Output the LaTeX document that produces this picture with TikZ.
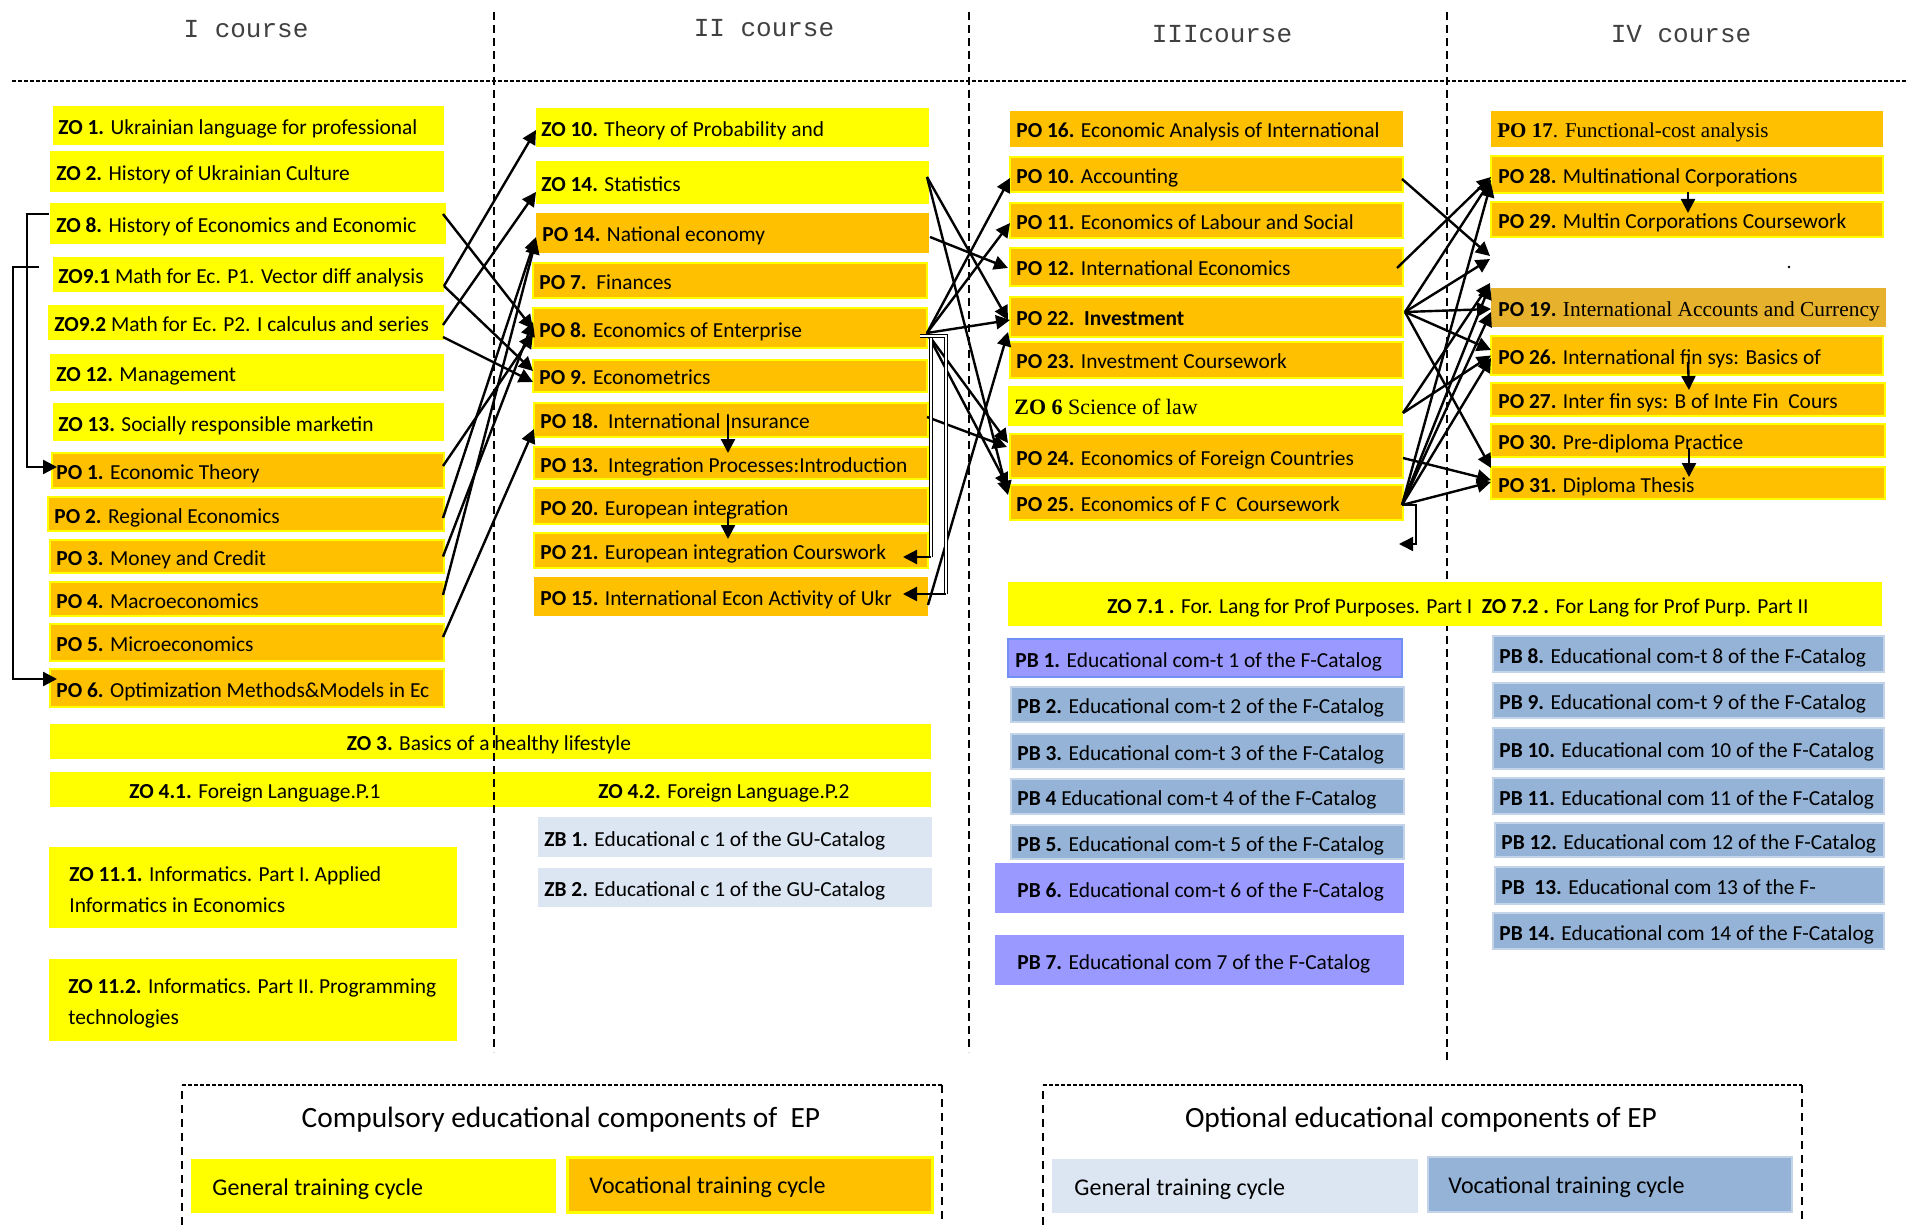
\documentclass[tikz,border=0pt]{standalone}
\usepackage{fontspec}
\setmainfont{Carlito}
\newfontfamily\tms{Liberation Serif}
\newfontfamily\mono{Liberation Mono}
\usetikzlibrary{arrows.meta,calc}
\definecolor{yel}{HTML}{FFFF00}
\definecolor{org}{HTML}{FFC000}
\definecolor{gld}{HTML}{E6B12C}
\definecolor{pbl}{HTML}{95B3D7}
\definecolor{pbb}{HTML}{C3D3E8}
\definecolor{vio}{HTML}{9999FF}
\definecolor{vioB}{HTML}{7090F5}
\definecolor{zbl}{HTML}{DCE6F2}
\tikzset{
 base/.style={inner sep=0, outer sep=0},
 ybox/.style={base, fill=yel},
 obox/.style={base, fill=org, draw=yel, line width=0.9pt},
 onob/.style={base, fill=org},
 gbox/.style={base, fill=gld},
 bbox/.style={base, fill=pbl, draw=pbb, line width=0.8pt},
 vbox/.style={base, fill=vio},
 vonebox/.style={base, fill=vio, draw=vioB, line width=1pt},
 zbox/.style={base, fill=zbl},
 txt/.style={inner sep=0, font=\fontsize{10.7}{13}\selectfont},
 arr/.style={line width=1.2pt, -{Triangle[length=7pt,width=7pt]}},
 thinarr/.style={line width=0.8pt, -{Triangle[length=7pt,width=7pt]}},
 brk/.style={draw=black, line width=0.45pt, double=white, double distance=0.9pt},
 vdash/.style={line width=0.7pt, dash pattern=on 4pt off 2.5pt},
 hdash/.style={line width=1pt, dash pattern=on 2pt off 1pt},
 ldash/.style={line width=0.6pt, dash pattern=on 4pt off 3pt},
 ltop/.style={line width=0.9pt, dash pattern=on 2pt off 1pt},
 course/.style={inner sep=0, font=\mono\fontsize{13}{15}\selectfont, text=black!75},
 legt/.style={inner sep=0, font=\fontsize{14.7}{17}\selectfont},
 legi/.style={inner sep=0, font=\fontsize{12}{14}\selectfont, anchor=base west},
}
\newcommand\cbe[6]{%
 \node[#6, anchor=north west, minimum width={(#4-#2)*0.5pt}, minimum height={(#5-#3)*0.5pt}] (#1) at (#2,#3) {};}
\newcommand\cbx[8]{%
 \cbe{#1}{#2}{#3}{#4}{#5}{#6}%
 \node[txt, anchor=base west] (#1t) at ({#7},{(#3+#5)/2+9}) {#8};}
\begin{document}
\begin{tikzpicture}[x=0.5pt,y=-0.5pt]
\fill[white] (0,0) rectangle (1907,1225);
\path[use as bounding box] (0,0) rectangle (1907,1225);
% course titles
\node[course] (c1) at (246,29) {I course};
\node[course] (c2) at (764,28) {II course};
\node[course] (c3) at (1222,34) {IIIcourse};
\node[course] (c4) at (1681,34) {IV course};
\draw[hdash] (12,81) -- (1907,81);
\draw[vdash] (1447,12) -- (1447,1063);
% column 1
\cbx{zo1}{53}{106}{444}{145}{ybox}{58}{\textbf{ZO 1.} Ukrainian language for professional}
\cbx{zo2}{50}{151}{444}{192}{ybox}{56}{\textbf{ZO 2.} History of Ukrainian Culture}
\cbx{zo8}{50}{203}{446}{244}{ybox}{56}{\textbf{ZO 8.} History of Economics and Economic}
\cbx{zo91}{53}{257}{444}{292}{ybox}{58}{\textbf{ZO9.1} Math for Ec. P1. Vector diff analysis}
\cbx{zo92}{48}{305}{444}{340}{ybox}{54}{\textbf{ZO9.2} Math for Ec. P2. I calculus and series}
\cbx{zo12}{50}{354}{444}{391}{ybox}{56}{\textbf{ZO 12.} Management}
\cbx{zo13}{53}{403}{444}{441}{ybox}{58}{\textbf{ZO 13.} Socially responsible marketin}
\cbx{po1}{52}{453}{444}{488}{obox}{56}{\textbf{PO 1.} Economic Theory}
\cbx{po2}{48}{497}{444}{531}{obox}{54}{\textbf{PO 2.} Regional Economics}
\cbx{po3}{50}{540}{444}{573}{obox}{56}{\textbf{PO 3.} Money and Credit}
\cbx{po4}{50}{582}{444}{616}{obox}{56}{\textbf{PO 4.} Macroeconomics}
\cbx{po5}{50}{624}{444}{661}{obox}{56}{\textbf{PO 5.} Microeconomics}
\cbx{po6}{50}{669}{444}{707}{obox}{56}{\textbf{PO 6.} Optimization Methods\&Models in Ec}
\cbe{zo3}{50}{724}{931}{759}{ybox}
\node[txt, anchor=base] (zo3t) at (489,750) {\textbf{ZO 3.} Basics of a healthy lifestyle};
\cbe{zo4}{50}{772}{931}{807}{ybox}
\node[txt, anchor=base] (zo41t) at (255,798) {\textbf{ZO 4.1.} Foreign Language.P.1};
\node[txt, anchor=base] (zo42t) at (724,798) {\textbf{ZO 4.2.} Foreign Language.P.2};
\cbe{zo111}{49}{847}{457}{928}{ybox}
\node[txt, anchor=west, align=left, font=\fontsize{10.7}{15.5}\selectfont] (zo111t) at (69,890) {\textbf{ZO 11.1.} Informatics. Part I. Applied\\Informatics in Economics};
\cbe{zo112}{49}{959}{457}{1041}{ybox}
\node[txt, anchor=west, align=left, font=\fontsize{10.7}{15.5}\selectfont] (zo112t) at (68,1003) {\textbf{ZO 11.2.} Informatics. Part II. Programming\\technologies};
% column 2
\cbx{zo10}{536}{108}{929}{147}{ybox}{541}{\textbf{ZO 10.} Theory of Probability and}
\cbx{zo14}{536}{161}{929}{204}{ybox}{541}{\textbf{ZO 14.} Statistics}
\cbx{po14}{536}{213}{929}{253}{onob}{542}{\textbf{PO 14.} National economy}
\cbx{po7}{533}{263}{927}{298}{obox}{539}{\textbf{PO 7.}\ \ Finances}
\cbx{po8}{533}{308}{927}{348}{obox}{539}{\textbf{PO 8.} Economics of Enterprise}
\cbx{po9}{533}{360}{927}{392}{obox}{539}{\textbf{PO 9.} Econometrics}
\cbx{po18}{534}{403}{928}{437}{obox}{540}{\textbf{PO 18.}\ \ International Insurance}
\cbx{po13}{534}{447}{928}{479}{obox}{540}{\textbf{PO 13.}\ \ Integration Processes:Introduction}
\cbx{po20}{534}{488}{928}{524}{obox}{540}{\textbf{PO 20.} European integration}
\cbx{po21}{534}{533}{928}{568}{obox}{540}{\textbf{PO 21.} European integration Courswork}
\cbx{po15}{534}{577}{928}{616}{onob}{540}{\textbf{PO 15.} International Econ Activity of Ukr}
\cbx{zb1}{538}{817}{932}{857}{zbox}{544}{\textbf{ZB 1.} Educational c 1 of the GU-Catalog}
\cbx{zb2}{538}{868}{932}{907}{zbox}{544}{\textbf{ZB 2.} Educational c 1 of the GU-Catalog}
% column 3
\cbx{po16}{1010}{111}{1403}{147}{onob}{1016}{\textbf{PO 16.} Economic Analysis of International}
\cbx{po10}{1010}{157}{1403}{192}{obox}{1016}{\textbf{PO 10.} Accounting}
\cbx{po11}{1010}{203}{1403}{238}{obox}{1016}{\textbf{PO 11.} Economics of Labour and Social}
\cbx{po12}{1010}{248}{1403}{286}{obox}{1016}{\textbf{PO 12.} International Economics}
\cbx{po22}{1010}{297}{1403}{337}{obox}{1016}{\textbf{PO 22.\ \ Investment}}
\cbx{po23}{1010}{342}{1403}{378}{obox}{1016}{\textbf{PO 23.} Investment Coursework}
\cbx{zo6}{1008}{386}{1403}{426}{ybox}{1014}{{\tms\fontsize{11}{13}\selectfont\textbf{ZO 6} Science of law}}
\cbx{po24}{1010}{434}{1403}{478}{obox}{1016}{\textbf{PO 24.} Economics of Foreign Countries}
\cbx{po25}{1010}{485}{1403}{520}{obox}{1016}{\textbf{PO 25.} Economics of F C\ \ Coursework}
\cbe{zo7}{1008}{582}{1882}{626}{ybox}
\node[txt, anchor=base] (zo7t) at (1458,613) {\textbf{ZO 7.1 .} For. Lang for Prof Purposes. Part I\ \ \textbf{ZO 7.2 .} For Lang for Prof Purp. Part II};
\cbx{pb1}{1008}{639}{1402}{677}{vonebox}{1015}{\textbf{PB 1.} Educational com-t 1 of the F-Catalog}
\cbx{pb2}{1011}{687}{1404}{722}{bbox}{1017}{\textbf{PB 2.} Educational com-t 2 of the F-Catalog}
\cbx{pb3}{1011}{734}{1404}{769}{bbox}{1017}{\textbf{PB 3.} Educational com-t 3 of the F-Catalog}
\cbx{pb4}{1011}{779}{1404}{814}{bbox}{1017}{\textbf{PB 4} Educational com-t 4 of the F-Catalog}
\cbx{pb5}{1011}{825}{1404}{859}{bbox}{1017}{\textbf{PB 5.} Educational com-t 5 of the F-Catalog}
\cbx{pb6}{995}{863}{1404}{913}{vbox}{1017}{\textbf{PB 6.} Educational com-t 6 of the F-Catalog}
\cbx{pb7}{995}{935}{1404}{985}{vbox}{1017}{\textbf{PB 7.} Educational com 7 of the F-Catalog}
% column 4
\cbx{po17}{1491}{111}{1883}{147}{onob}{1497}{{\tms\fontsize{10.5}{12}\selectfont\textbf{PO 17}. Functional-cost analysis}}
\cbx{po28}{1491}{156}{1883}{193}{obox}{1498}{\textbf{PO 28.} Multinational Corporations}
\cbx{po29}{1491}{202}{1883}{237}{obox}{1498}{\textbf{PO 29.} Multin Corporations Coursework}
\cbx{po19}{1491}{288}{1886}{327}{gbox}{1498}{\textbf{PO 19.} {\tms\fontsize{10.7}{13}\selectfont International Accounts and Currency}}
\cbx{po26}{1491}{336}{1883}{375}{obox}{1498}{\textbf{PO 26.} International fin sys: Basics of}
\cbx{po27}{1491}{383}{1885}{416}{obox}{1498}{\textbf{PO 27.} Inter fin sys: B of Inte Fin\ \ Cours}
\cbx{po30}{1491}{424}{1885}{457}{obox}{1498}{\textbf{PO 30.} Pre-diploma Practice}
\cbx{po31}{1491}{467}{1885}{499}{obox}{1498}{\textbf{PO 31.} Diploma Thesis}
\fill (1789,267) circle (1.3);
\cbx{pb8}{1493}{636}{1884}{672}{bbox}{1499}{\textbf{PB 8.} Educational com-t 8 of the F-Catalog}
\cbx{pb9}{1493}{683}{1884}{718}{bbox}{1499}{\textbf{PB 9.} Educational com-t 9 of the F-Catalog}
\cbx{pb10}{1493}{728}{1884}{769}{bbox}{1499}{\textbf{PB 10.} Educational com 10 of the F-Catalog}
\cbx{pb11}{1493}{778}{1884}{814}{bbox}{1499}{\textbf{PB 11.} Educational com 11 of the F-Catalog}
\cbx{pb12}{1495}{823}{1884}{857}{bbox}{1501}{\textbf{PB 12.} Educational com 12 of the F-Catalog}
\cbx{pb13}{1495}{867}{1884}{904}{bbox}{1501}{\textbf{PB\ \ 13.} Educational com 13 of the F-}
\cbx{pb14}{1493}{913}{1884}{949}{bbox}{1499}{\textbf{PB 14.} Educational com 14 of the F-Catalog}
% dashed course separators over boxes
\draw[vdash] (494,12) -- (494,1052);
\draw[vdash] (969,12) -- (969,1052);
% left brackets
\draw[arr] ($(zo8.west)+(-1,-9.5)$) -| ($(po1.west)+(-25,-3.5)$) -- ($(po1.west)+(5,-3.5)$);
\draw[arr] ($(zo91.west)+(-14,-7.5)$) -| ($(po6.west)+(-37,-9)$) -- ($(po6.west)+(7,-9)$);
% column 1 -> column 2
\draw[arr] ($(zo8.east)+(-3,-9.5)$) -- ($(po8.west)+(0,1)$);
\draw[arr] ($(zo91.east)+(0,11.5)$) -- ($(zo10.west)+(0,2.5)$);
\draw[arr] ($(zo91.east)+(0,11.5)$) -- ($(po9.west)+(0,-5)$);
\draw[arr] ($(zo92.east)+(-1,2.5)$) -- ($(zo14.west)+(0,9.5)$);
\draw[arr] ($(zo92.east)+(-1,14.5)$) -- ($(po9.west)+(0,6)$);
\draw[arr] ($(po1.east)+(-1,-4.5)$) -- ($(po8.west)+(0,6)$);
\draw[arr] ($(po2.east)+(-1,4)$) -- ($(po14.west)+(0,4)$);
\draw[arr] ($(po3.east)+(-1,0)$) -- ($(po8.west)+(0,-6)$);
\draw[arr] ($(po4.east)+(-1,-4)$) -- ($(po14.west)+(0,7)$);
\draw[arr] ($(po5.east)+(-1,-5.5)$) -- ($(po18.west)+(0,9)$);
% inside column 2
\draw[arr] ($(po18.center)+(-3,-2)$) -- ($(po13.north)+(-3,6)$);
\draw[arr] ($(po20.center)+(-3,6)$) -- ($(po21.north)+(-3,6)$);
% column 2 -> column 3
\draw[arr] ($(zo14.east)+(-2,-5.5)$) -- ($(po22.west)+(-2,3)$);
\draw[arr] ($(zo14.east)+(-2,-5.5)$) -- ($(po25.west)+(-2,-7.5)$);
\draw[arr] ($(po14.east)+(1,4)$) -- ($(po12.west)+(-2,1)$);
\draw[arr] ($(po8.east)+(0,5)$) -- ($(po10.west)+(0,3.5)$);
\draw[arr] ($(po8.east)+(0,5)$) -- ($(po11.west)+(0,2.5)$);
\draw[arr] ($(po8.east)+(0,5)$) -- ($(po22.west)+(0,3)$);
\draw[arr] ($(po8.east)+(0,5)$) -- ($(po24.west)+(-2,-13)$);
\draw[arr] ($(po8.east)+(0,5)$) -- ($(po25.west)+(-2,-15.5)$);
\draw[arr] ($(po18.east)+(-1,-3)$) -- ($(po24.west)+(-3,-9)$);
\draw[arr] ($(po15.east)+(0,8.5)$) -- ($(po22.west)+(-2,15)$);
% brackets from PO 8 down to PO 21 and PO 15
\draw[brk] ($(po8.east)+(-7,8)$) -| ($(po21.east)+(3,6.5)$);
\draw[arr] ($(po21.east)+(3,6.5)$) -- ($(po21.east)+(-25,6.5)$);
\draw[brk] ($(po8.east)+(-7,8)$) -| ($(po15.east)+(18,-2.5)$);
\draw[arr] ($(po15.east)+(18,-2.5)$) -- ($(po15.east)+(-25,-2.5)$);
% column 3 -> column 4
\coordinate (gap1) at (1490,256);
\coordinate (gap2) at (1490,283);
\draw[arr] ($(po10.east)+(-1,4.5)$) -- (gap1);
\draw[arr] ($(po12.east)+(-6,1)$) -- ($(po28.west)+(0,2.5)$);
\draw[arr] ($(po22.east)+(2,-5)$) -- ($(po28.west)+(0,5.5)$);
\draw[arr] ($(po22.east)+(2,-5)$) -- ($(gap1)+(0,3)$);
\draw[arr] ($(po22.east)+(2,-5)$) -- ($(po19.west)+(0,1.5)$);
\draw[arr] ($(po22.east)+(2,-5)$) -- ($(po26.west)+(0,-5.5)$);
\draw[arr] ($(po22.east)+(2,-5)$) -- ($(po31.west)+(0,-15)$);
\draw[arr] ($(zo6.east)+(0,7)$) -- (gap2);
\draw[arr] ($(zo6.east)+(0,7)$) -- ($(po26.west)+(0,0)$);
\draw[arr] ($(po24.east)+(0,2)$) -- ($(po31.west)+(0,-3)$);
\draw[arr] ($(po25.east)+(-1,2.5)$) -- ($(po28.west)+(0,8.5)$);
\draw[arr] ($(po25.east)+(-1,2.5)$) -- ($(gap2)+(0,2)$);
\draw[arr] ($(po25.east)+(-1,2.5)$) -- ($(po19.west)+(0,4.5)$);
\draw[arr] ($(po25.east)+(-1,2.5)$) -- ($(po26.west)+(0,2.5)$);
\draw[arr] ($(po25.east)+(-1,2.5)$) -- ($(po31.west)+(0,-1)$);
\draw[thinarr] ($(po25.east)+(-1,2.5)$) -| ($(po25.east)+(13,41.5)$) -- ($(po25.east)+(-4,41.5)$);
% inside column 4
\draw[arr] ($(po28.south)+(1,-1)$) -- ($(po29.north)+(1,11)$);
\draw[arr] ($(po26.center)+(1,6.5)$) -- ($(po27.north)+(1,7)$);
\draw[arr] ($(po30.center)+(1,7.5)$) -- ($(po31.north)+(1,10)$);
% legend
\draw[ldash] (182,1225) -- (182,1085);
\draw[ldash] (942,1085) -- (942,1225);
\draw[ltop] (182,1085) -- (942,1085);
\draw[ldash] (1043,1225) -- (1043,1085);
\draw[ldash] (1802,1085) -- (1802,1225);
\draw[ltop] (1043,1085) -- (1802,1085);
\node[legt, anchor=base] (lt1) at (561,1127) {Compulsory educational components of\ \ EP};
\node[legt, anchor=base] (lt2) at (1421,1127) {Optional educational components of EP};
\cbe{lg1}{191}{1159}{556}{1213}{ybox}
\node[legi] (lg1t) at (212,1195) {General training cycle};
\cbe{lg2}{567}{1157}{932}{1212}{base, fill=org, draw=yel, line width=1.5pt}
\node[legi] (lg2t) at (589,1193) {Vocational training cycle};
\cbe{lg3}{1052}{1159}{1418}{1213}{zbox}
\node[legi] (lg3t) at (1074,1195) {General training cycle};
\cbe{lg4}{1428}{1157}{1792}{1212}{base, fill=pbl, draw=pbb, line width=1pt}
\node[legi] (lg4t) at (1448,1193) {Vocational training cycle};
\end{tikzpicture}
\end{document}
